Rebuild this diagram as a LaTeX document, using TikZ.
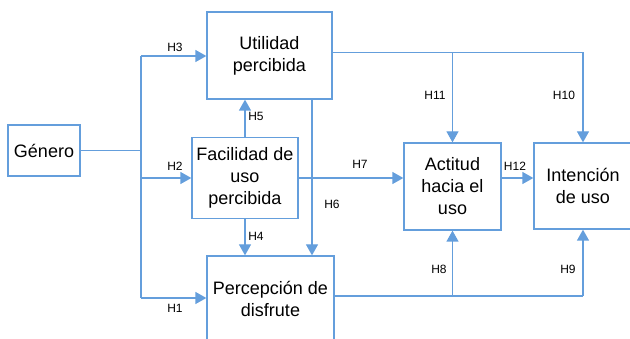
\documentclass[tikz,border=0pt]{standalone}
\usepackage{fontspec}
\setmainfont{Liberation Sans}
\usetikzlibrary{arrows.meta,calc}
\definecolor{lblue}{RGB}{100,158,220}
\tikzset{
  box/.style={draw=lblue, line width=1.3pt, rectangle, align=center, inner sep=0pt,
    font=\fontsize{18}{22}\selectfont},
  conn/.style={draw=lblue, line width=1.3pt},
  arr/.style={conn, -{Triangle[width=12pt,length=11pt]}},
  lab/.style={font=\fontsize{12}{14}\selectfont, inner sep=0pt}
}
\begin{document}
\begin{tikzpicture}[x=1pt,y=-1pt]
\useasboundingbox (0,0) rectangle (630,339);
\clip (0,0) rectangle (630,339);
\node[box, minimum width=72pt, minimum height=51pt] (gen) at (44,150.5) {Género};
\node[box, minimum width=125pt, minimum height=87pt] (utl) at (269.5,55.5) {Utilidad\\percibida};
\node[box, minimum width=106pt, minimum height=81pt] (fac) at (245,178) {Facilidad de\\uso\\percibida};
\node[box, minimum width=127pt, minimum height=86pt] (per) at (270.5,299) {Percepción de\\disfrute};
\node[box, minimum width=97pt, minimum height=87pt] (act) at (452.5,186.5) {Actitud\\hacia el\\uso};
\node[box, minimum width=98pt, minimum height=86pt] (int) at (583,186) {Intención\\de uso};

\coordinate (bus) at (141,150.5);
\coordinate (yu) at (0,52.5);
\coordinate (yb) at (0,296);
\coordinate (h6x) at (312,0);

% Genero bus
\draw[conn] (gen.east) -- (bus);
\draw[conn] (bus |- 0,56) -- (bus |- 0,298);
\draw[arr] (bus |- 0,56) -- (utl.west |- 0,56);
\draw[arr] (bus |- fac.west) -- (fac.west);
\draw[arr] (bus |- 0,298) -- (per.west |- 0,298);

% H5, H4, H6
\draw[arr] (fac.north) -- (fac.north |- utl.south);
\draw[arr] (fac.south) -- (fac.south |- per.north);
\draw[arr] (h6x |- utl.south) -- (h6x |- per.north);

% H7, H12
\draw[arr] (fac.east) -- (fac.east -| act.west);
\draw[arr] (act.east |- fac.east) -- (int.west |- fac.east);

% top line H11, H10
\draw[conn] (utl.east |- yu) -- (int.north |- yu);
\draw[arr] (act.north |- yu) -- (act.north);
\draw[arr] (int.north |- yu) -- (int.north);

% bottom line H8, H9
\draw[conn] (per.east |- yb) -- (int.south |- yb);
\draw[arr] (act.south |- yb) -- (act.south);
\draw[arr] (int.south |- yb) -- (int.south);

% labels
\node[lab] (l3) at (175,47) {H3};
\node[lab] (l2) at (175,166) {H2};
\node[lab] (l1) at (175,308.5) {H1};
\node[lab] (l5) at (256,116) {H5};
\node[lab] (l4) at (256,236) {H4};
\node[lab] (l6) at (332,204) {H6};
\node[lab] (l7) at (360,164) {H7};
\node[lab] (l11) at (435,95) {H11};
\node[lab] (l10) at (564,95) {H10};
\node[lab] (l8) at (439,269) {H8};
\node[lab] (l9) at (568,269) {H9};
\node[lab] (l12) at (515,166) {H12};
\end{tikzpicture}
\end{document}
